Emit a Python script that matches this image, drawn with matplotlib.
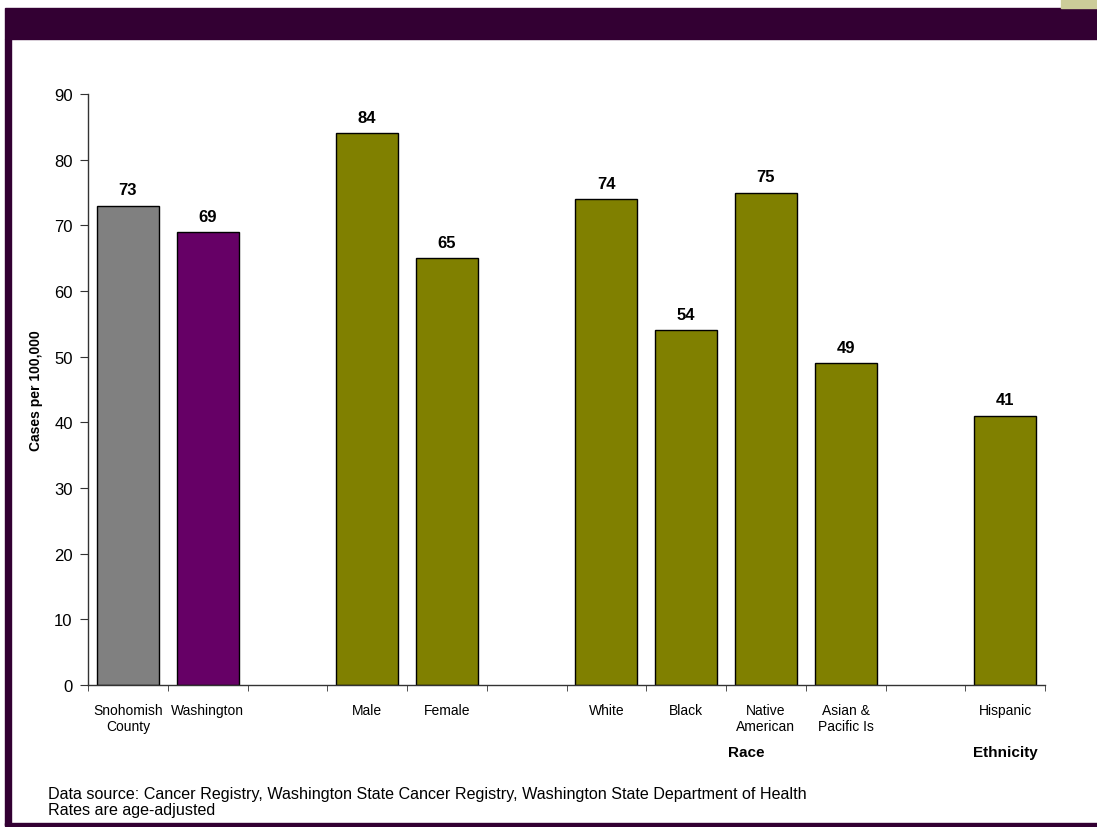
import numpy as np
import matplotlib
matplotlib.use("Agg")
from matplotlib import pyplot as plt
from matplotlib.patches import Rectangle
from matplotlib.transforms import blended_transform_factory

plt.rcParams["font.family"] = ["Liberation Sans", "DejaVu Sans"]

# one slot per category, empty names are the gaps between groups
labels = ["Snohomish\nCounty", "Washington", "", "Male", "Female", "",
          "White", "Black", "Native\nAmerican", "Asian &\nPacific Is", "", "Hispanic"]
rates = [73, 69, None, 84, 65, None, 74, 54, 75, 49, None, 41]
colors = ["#808080", "#660066", None, "#808000", "#808000", None,
          "#808000", "#808000", "#808000", "#808000", None, "#808000"]
group_names = ["Race", "Ethnicity"]
group_x = [7.75, 11]

frame = "#330033"

fig = plt.figure(figsize=(10.97, 8.28), dpi=100)
W, H = 1097, 828

# slide frame: top band, left bar, bottom rule, corner block
fig.patches.append(Rectangle((5 / W, 1 - 40 / H), 1 - 5 / W, 31 / H,
                             transform=fig.transFigure, color=frame, zorder=0))
fig.patches.append(Rectangle((5 / W, 1 - 826 / H), 6 / W, 786 / H,
                             transform=fig.transFigure, color=frame, zorder=0))
fig.patches.append(Rectangle((5 / W, 1 - 827 / H), 1 - 5 / W, 3 / H,
                             transform=fig.transFigure, color=frame, zorder=0))
fig.patches.append(Rectangle((1061 / W, 1 - 9 / H), 36 / W, 9 / H,
                             transform=fig.transFigure, color="#CCCC99", zorder=0))

ax = fig.add_axes([88 / W, 1 - 686 / H, (1045 - 88) / W, (686 - 95) / H])
ax.set_facecolor("none")

x = np.arange(len(labels))
for xi, v, c in zip(x, rates, colors):
    if v is None:
        continue
    ax.bar(xi, v, width=0.78, color=c, edgecolor="black", linewidth=1.0, zorder=2)
    ax.annotate(f"{v}", (xi, v), xytext=(0, 6), textcoords="offset points",
                ha="center", va="bottom", fontsize=12, fontweight="bold")

ax.set_xlim(-0.5, len(labels) - 0.5)
ax.set_ylim(0, 90)
ax.set_yticks(np.arange(0, 91, 10))
ax.set_xticks(x)
ax.set_xticklabels(labels, fontsize=10)
ax.set_xticks(np.arange(-0.5, len(labels), 1), minor=True)
ax.tick_params(axis="x", which="major", length=0, pad=13)
ax.tick_params(axis="x", which="minor", length=4, direction="out", color="#333333")
ax.tick_params(axis="y", length=6, pad=5, labelsize=12, color="#333333")

for s in ["top", "right"]:
    ax.spines[s].set_visible(False)
for s in ["left", "bottom"]:
    ax.spines[s].set_color("#333333")
    ax.spines[s].set_linewidth(1.0)

ax.set_ylabel("Cases per 100,000", fontsize=10, fontweight="bold", labelpad=8)

tr = blended_transform_factory(ax.transData, ax.transAxes)
for name, gx in zip(group_names, group_x):
    ax.text(gx, -0.113, name, transform=tr, ha="center", va="center",
            fontsize=11, fontweight="bold")

fig.text(48 / W, 1 - 795 / H,
         "Data source: Cancer Registry, Washington State Cancer Registry, "
         "Washington State Department of Health", fontsize=11.6, va="center")
fig.text(48 / W, 1 - 811 / H, "Rates are age-adjusted", fontsize=11.6, va="center")

fig.savefig("out.png", dpi=100, facecolor="white")
